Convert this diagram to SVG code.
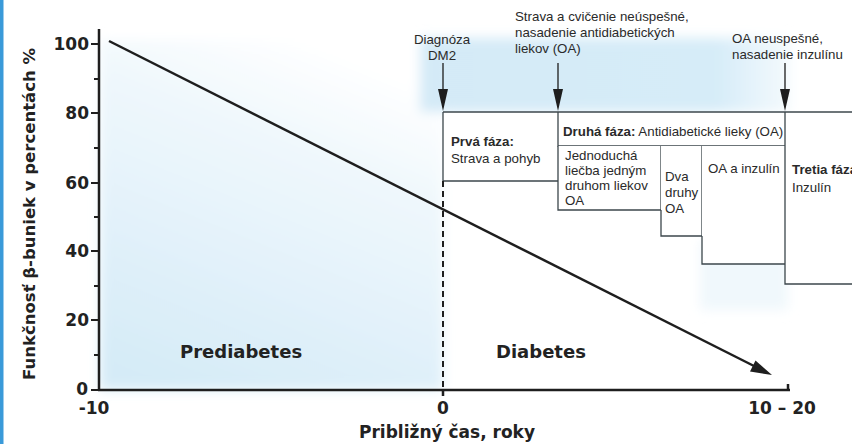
<svg xmlns="http://www.w3.org/2000/svg" width="852" height="444" viewBox="0 0 852 444">
<style>
.ax{stroke:#1e1e1e;stroke-width:2.5;fill:none}
.bx{stroke:#3c474c;stroke-width:1.3;fill:none}
.bold{font-family:"DejaVu Sans",sans-serif;font-weight:bold;fill:#222}
.num{font-family:"DejaVu Sans",sans-serif;font-weight:bold;font-size:17px;fill:#222}
.sm{font-family:"Liberation Sans",Arial,sans-serif;font-size:13.3px;fill:#2a2a2a}
.smb{font-family:"Liberation Sans",Arial,sans-serif;font-size:13.3px;font-weight:bold;fill:#2a2a2a}
.ah{fill:#1e1e1e}
</style>
<defs>
<linearGradient id="gLeft" x1="0.6" y1="0" x2="0.2" y2="1">
<stop offset="0" stop-color="#ffffff"/>
<stop offset="0.3" stop-color="#eef7fc"/>
<stop offset="1" stop-color="#d5ebf7"/>
</linearGradient>
<linearGradient id="gTop" x1="0" y1="0" x2="1" y2="0">
<stop offset="0" stop-color="#d4eaf7"/>
<stop offset="0.8" stop-color="#d6ecf8"/>
<stop offset="1" stop-color="#f4fafd"/>
</linearGradient>
<filter id="blur" x="-20%" y="-20%" width="140%" height="140%"><feGaussianBlur stdDeviation="6"/></filter>
</defs>
<rect width="852" height="444" fill="#ffffff"/>
<rect x="0" y="0" width="3.5" height="444" fill="#3a9ad9"/>
<g id="background" filter="url(#blur)">
<rect x="100" y="40" width="343" height="350" fill="url(#gLeft)"/>
<rect x="420" y="38" width="370" height="74" fill="url(#gTop)"/>
<rect x="700" y="240" width="88" height="70" fill="#f0f8fc"/>
</g>
<g id="phase1">
<rect x="443" y="112" width="115" height="69" fill="#ffffff"/>
<path class="bx" d="M443,112 V181 H558"/>
<text class="smb" x="451" y="146">Prvá fáza:</text>
<text class="sm" x="451" y="163">Strava a pohyb</text>
</g>
<g id="phase2">
<rect x="558" y="112" width="227" height="34" fill="#ffffff"/>
<path class="bx" d="M558,112 V146 H785"/>
<text x="563" y="136"><tspan class="smb">Druhá fáza:</tspan><tspan class="sm"> Antidiabetické lieky (OA)</tspan></text>
</g>
<g id="oa1">
<rect x="558" y="146" width="103" height="64" fill="#ffffff"/>
<path class="bx" d="M558,146 V210 H661 V146"/>
<text class="sm" x="565" y="160">Jednoduchá</text>
<text class="sm" x="565" y="175">liečba jedným</text>
<text class="sm" x="565" y="190">druhom liekov</text>
<text class="sm" x="565" y="205">OA</text>
</g>
<g id="oa2">
<rect x="661" y="146" width="41" height="90" fill="#ffffff"/>
<path class="bx" d="M661,210 V236 H702 V146"/>
<text class="sm" x="665" y="181">Dva</text>
<text class="sm" x="665" y="197">druhy</text>
<text class="sm" x="665" y="213">OA</text>
</g>
<g id="oa3">
<rect x="702" y="146" width="83" height="118" fill="#ffffff"/>
<path class="bx" d="M702,236 V264 H785"/>
<text class="sm" x="708" y="173">OA a inzulín</text>
</g>
<g id="phase3">
<rect x="785" y="112" width="67" height="172" fill="#ffffff"/>
<path class="bx" d="M785,112 V284 H852"/>
<text class="smb" x="792" y="174">Tretia fáza</text>
<text class="sm" x="792" y="192">Inzulín</text>
</g>
<g id="connectors">
<path class="bx" d="M443,112 H852" stroke-width="1.6"/>
<path d="M443,63 V92 M558,63 V92 M785,63 V92" stroke="#1e1e1e" stroke-width="1.3"/>
<path class="ah" d="M438,89 L448,89 L443,111 Z"/>
<path class="ah" d="M553,89 L563,89 L558,111 Z"/>
<path class="ah" d="M780,89 L790,89 L785,111 Z"/>
<path d="M443,181 V390" stroke="#1e1e1e" stroke-width="2" stroke-dasharray="6,4"/>
<path d="M109,41 L755,366.5" stroke="#1e1e1e" stroke-width="2.5"/>
<path class="ah" d="M772,375 L750,371.5 L755.5,360.5 Z"/>
</g>
<g id="axes">
<path class="ax" d="M99,29 V391"/>
<path class="ax" d="M98,390 H790"/>
<path class="ax" d="M788,390 V384"/>
<path class="ax" d="M443,390 V396" stroke-width="2"/>
<g stroke="#1e1e1e" stroke-width="2">
<path d="M91,44 H99 M91,113 H99 M91,183 H99 M91,251 H99 M91,320 H99 M91,390 H99"/>
<path d="M94,79 H99 M94,148 H99 M94,286 H99 M94,355 H99 M94,217 H99"/>
</g>
</g>
<g id="labels">
<text class="num" x="89" y="50" text-anchor="end">100</text>
<text class="num" x="89" y="119" text-anchor="end">80</text>
<text class="num" x="89" y="189" text-anchor="end">60</text>
<text class="num" x="89" y="257" text-anchor="end">40</text>
<text class="num" x="89" y="326" text-anchor="end">20</text>
<text class="num" x="88" y="395" text-anchor="end">0</text>
<text class="num" x="94" y="414" text-anchor="middle">-10</text>
<text class="num" x="443" y="414" text-anchor="middle">0</text>
<text class="num" x="782" y="414" text-anchor="middle">10 – 20</text>
<text class="bold" x="447" y="438" font-size="17" text-anchor="middle">Približný čas, roky</text>
<text class="bold" x="35" y="214" font-size="16.5" text-anchor="middle" transform="rotate(-90 35 214)">Funkčnosť β-buniek v percentách %</text>
<text class="bold" x="180" y="358" font-size="18">Prediabetes</text>
<text class="bold" x="496" y="358" font-size="18">Diabetes</text>
<text class="sm" x="442" y="44" text-anchor="middle">Diagnóza</text>
<text class="sm" x="442" y="60" text-anchor="middle">DM2</text>
<text class="sm" x="515" y="21">Strava a cvičenie neúspešné,</text>
<text class="sm" x="515" y="37">nasadenie antidiabetických</text>
<text class="sm" x="515" y="53">liekov (OA)</text>
<text class="sm" x="732" y="43">OA neuspešné,</text>
<text class="sm" x="732" y="59">nasadenie inzulínu</text>
</g>
</svg>
